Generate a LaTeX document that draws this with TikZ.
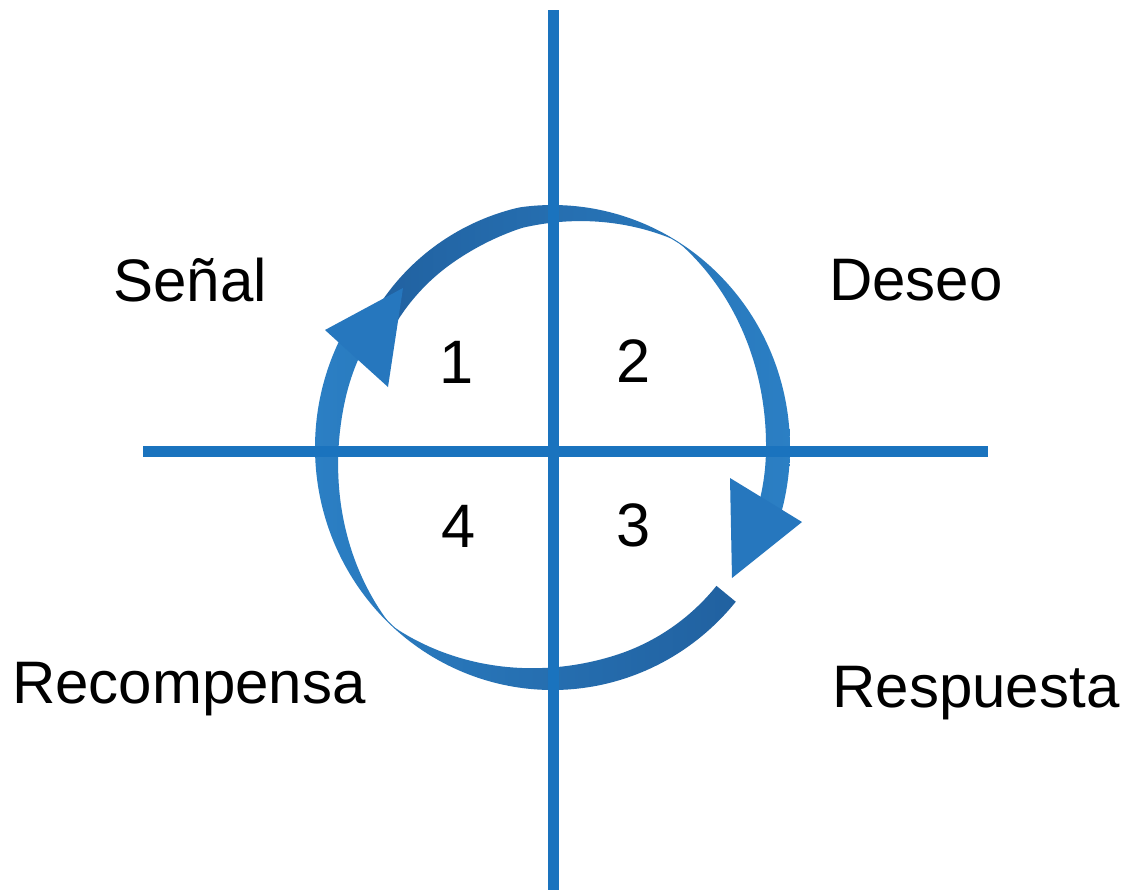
\documentclass[tikz,border=0pt]{standalone}
\usepackage{fontspec}
\setmainfont{Liberation Sans}
\definecolor{lineblue}{RGB}{26,115,190}
\definecolor{ribmid}{RGB}{43,127,196}
\definecolor{ribdark}{RGB}{33,97,160}
\definecolor{arrowblue}{RGB}{38,119,190}
\tikzset{
  declare function={
    wa(\t)=max(1,25*sin(min(1.5*abs(\t-133),90)));
    wb(\t)=max(1,24*sin(min(1.5*abs(\t-301.5),90)));
    ob(\t)=14*max(0,(262-\t)/40);
  },
  axisline/.style={draw=lineblue, line width=8.25pt, line cap=butt},
  lbl/.style={font=\fontsize{45}{54}\selectfont, text=black, inner sep=0pt, anchor=base},
  num/.style={font=\fontsize{46}{55}\selectfont, text=black, inner sep=0pt, anchor=base},
  headfill/.style={fill=arrowblue},
}
\begin{document}
\begin{tikzpicture}[x=0.75pt,y=-0.75pt]
\useasboundingbox (0,0) rectangle (1131,894);
\fill[white] (0,0) rectangle (1131,894);

% ribbon 1 (bottom and left side)
\path[left color=ribmid, middle color=ribdark, right color=ribdark]
  plot[domain=39.5:206, samples=140, variable=\t]
    ({552.5+237.5*cos(\t)},{447.5+242.5*sin(\t)})
  -- plot[domain=206:39.5, samples=140, variable=\t]
    ({552.5+(237.5-wa(\t))*cos(\t)},{447.5+(242.5-wa(\t))*sin(\t)})
  -- cycle;

% ribbon 2 (top and right side)
\path[left color=ribdark, middle color=ribdark, right color=ribmid]
  plot[domain=214:378, samples=140, variable=\t]
    ({552.5+(237.5-ob(\t))*cos(\t)},{447.5+(242.5-ob(\t))*sin(\t)})
  -- plot[domain=378:214, samples=140, variable=\t]
    ({552.5+(237.5-ob(\t)-wb(\t))*cos(\t)},{447.5+(242.5-ob(\t)-wb(\t))*sin(\t)})
  -- cycle;

% arrowheads
\coordinate (a1l) at (325,330);
\coordinate (a1t) at (403,288);
\coordinate (a1b) at (388,387);
\fill[headfill] (a1l) -- (a1t) -- (a1b) -- cycle;
\coordinate (a2l) at (730,478);
\coordinate (a2r) at (802,522);
\coordinate (a2t) at (732,578);
\fill[headfill] (a2l) -- (a2r) -- (a2t) -- cycle;

% axes
\coordinate (vtop) at (553,10);
\coordinate (vbot) at (553,890);
\coordinate (hlft) at (143,451);
\coordinate (hrgt) at (988,451);
\draw[axisline] (vtop) -- (vbot);
\draw[axisline] (hlft) -- (hrgt);

% labels
\node[lbl] (senal) at (190,301) {Señal};
\node[lbl] (deseo) at (916,300) {Deseo};
\node[lbl] (recompensa) at (189,703) {Recompensa};
\node[lbl] (respuesta) at (976,707) {Respuesta};
\node[num] (n1) at (457,383) {1};
\node[num] (n2) at (634,382) {2};
\node[num] (n3) at (634,546) {3};
\node[num] (n4) at (459,547) {4};
\end{tikzpicture}
\end{document}
